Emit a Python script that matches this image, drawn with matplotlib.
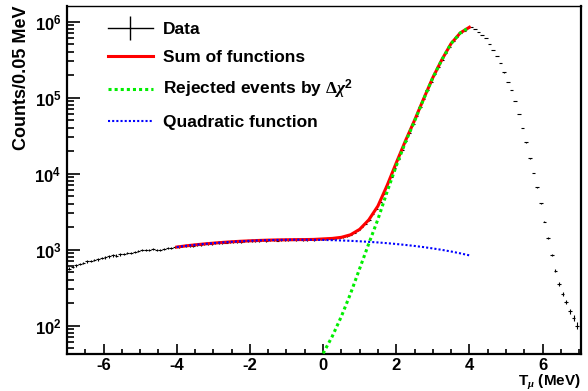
import numpy as np
import matplotlib
matplotlib.use('Agg')
import matplotlib.pyplot as plt
from matplotlib.lines import Line2D
from matplotlib.ticker import LogLocator, FixedLocator, MultipleLocator, NullFormatter

plt.rcParams['font.family'] = ['Liberation Sans', 'DejaVu Sans']
plt.rcParams['font.weight'] = 'bold'
plt.rcParams['axes.unicode_minus'] = False
plt.rcParams['mathtext.fontset'] = 'custom'
plt.rcParams['mathtext.rm'] = 'Liberation Serif'
plt.rcParams['mathtext.it'] = 'Liberation Serif:italic'
plt.rcParams['mathtext.bf'] = 'Liberation Sans:bold'

# histogram, 0.1 MeV wide bins from -7 to 7 (counts per 0.05 MeV)
bin_lo = -7.0
bin_w = 0.1
counts = [
    560, 590, 620, 650, 670, 700, 705, 730, 745, 770,
    790, 815, 840, 835, 865, 880, 910, 900, 935, 960,
    990, 1000, 985, 1010, 995, 1000, 1030, 1050, 1040, 1080,
    1075, 1100, 1110, 1130, 1120, 1150, 1165, 1170, 1190, 1200,
    1210, 1225, 1215, 1240, 1250, 1245, 1265, 1270, 1285, 1280,
    1295, 1310, 1290, 1320, 1305, 1330, 1340, 1315, 1345, 1330,
    1340, 1355, 1330, 1360, 1345, 1350, 1370, 1340, 1365, 1375,
    1380, 1400, 1395, 1420, 1440, 1470, 1520, 1580, 1670, 1820,
    1960, 2200, 2460, 2910, 3440, 4240, 5440, 6970, 9150, 12000,
    15700, 20600, 26900, 34400, 44300, 57100, 74300, 96600, 125000, 161000,
    204000, 254000, 317000, 385000, 467000, 548000, 624000, 710000, 760000, 822000,
    851000, 794000, 724000, 661000, 603000, 513000, 427000, 351000, 285000, 214000,
    162000, 126000, 91200, 60300, 39800, 25700, 15800, 10200, 6600, 4070,
    2340, 1410, 850, 525, 355, 263, 204, 155, 126, 100,
]

# fitted curves, sampled every 0.25 MeV
fit_step = 0.25
sum_x0 = -4.0
sum_vals = [
    1080, 1120, 1155, 1187, 1216, 1243, 1267, 1288, 1305, 1320, 1332,
    1341, 1347, 1352, 1355, 1362, 1383, 1403, 1451, 1567, 1848, 2463,
    3750, 6970, 13800, 26850, 50100, 96600, 183000, 317000, 514000,
    709000, 842000,
]
rej_x0 = 0.0
rej_vals = [
    43, 72, 132, 263, 562, 1200, 2510, 5750, 12600, 25700, 49000,
    95500, 182000, 316000, 513000, 708000, 841000,
]
quad_x0 = -4.0
quad_vals = [
    1080, 1120, 1155, 1187, 1216, 1243, 1267, 1287, 1305, 1320, 1332,
    1340, 1346, 1349, 1349, 1346, 1340, 1331, 1319, 1304, 1286, 1265,
    1242, 1215, 1185, 1152, 1117, 1078, 1036, 992, 944, 893, 840,
]

counts = np.array(counts, dtype=float)
t_bins = bin_lo + bin_w * (np.arange(len(counts)) + 0.5)
t_sum = sum_x0 + fit_step * np.arange(len(sum_vals))
t_rej = rej_x0 + fit_step * np.arange(len(rej_vals))
t_quad = quad_x0 + fit_step * np.arange(len(quad_vals))

fig = plt.figure(figsize=(5.88, 3.91), dpi=100)
ax = fig.add_axes([0.114, 0.095, 0.874, 0.89])

ax.errorbar(t_bins, counts, xerr=bin_w / 2, yerr=np.sqrt(counts), fmt='none',
            ecolor='black', elinewidth=0.8, zorder=2)
ax.plot(t_sum, sum_vals, color='red', lw=2.2, zorder=3)
ax.plot(t_rej, rej_vals, color='#00ee00', lw=2.2, linestyle=(0, (1, 1)), zorder=4)
ax.plot(t_quad, quad_vals, color='blue', lw=1.5, linestyle=(0, (1, 1)), zorder=5)

ax.set_yscale('log')
ax.set_xlim(-7.0, 7.05)
ax.set_ylim(42.5, 1.61e6)

ax.xaxis.set_major_locator(MultipleLocator(2))
ax.xaxis.set_minor_locator(MultipleLocator(0.5))
ax.yaxis.set_major_locator(FixedLocator([1e2, 1e3, 1e4, 1e5, 1e6]))
ax.yaxis.set_minor_locator(LogLocator(base=10, subs=np.arange(2, 10)))
ax.yaxis.set_minor_formatter(NullFormatter())
ax.set_yticklabels([r'$\mathbf{10^{%d}}$' % e for e in range(2, 7)])

ax.tick_params(axis='both', which='both', direction='in', top=False, right=False,
               labelsize=12, width=1.2)
ax.tick_params(axis='x', which='major', length=7.5, pad=3)
ax.tick_params(axis='x', which='minor', length=3.8)
ax.tick_params(axis='y', which='major', length=9.5, pad=4)
ax.tick_params(axis='y', which='minor', length=4.8)

for side in ['left', 'bottom', 'right']:
    ax.spines[side].set_linewidth(1.6)
ax.spines['top'].set_linewidth(1.0)

ax.set_xlabel(r'T$_{\mu}$ (MeV)', fontsize=11, fontweight='bold', ha='right')
ax.xaxis.set_label_coords(1.0, -0.054)
ax.set_ylabel('Counts/0.05 MeV', loc='top', fontsize=13, fontweight='bold', labelpad=3)

handles = [
    Line2D([], [], color='black', lw=1.0, marker='|', markersize=17, markeredgewidth=1.0),
    Line2D([], [], color='red', lw=2.2),
    Line2D([], [], color='#00ee00', lw=2.2, linestyle=(0, (1, 1))),
    Line2D([], [], color='blue', lw=1.5, linestyle=(0, (1, 1))),
]
labels = ['Data', 'Sum of functions', r'Rejected events by $\Delta\chi^{\mathbf{2}}$',
          'Quadratic function']
ax.legend(handles, labels, loc='upper left', bbox_to_anchor=(0.059, 0.985),
          frameon=False, fontsize=12.5, handlelength=2.6, handletextpad=0.57,
          labelspacing=0.76, borderaxespad=0.2)

fig.savefig('out.png', dpi=100)
